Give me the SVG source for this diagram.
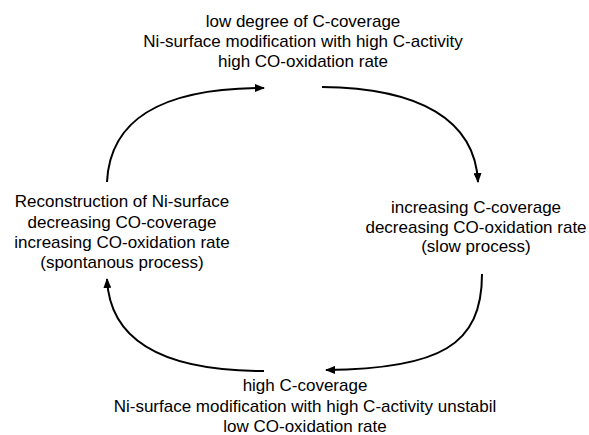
<svg xmlns="http://www.w3.org/2000/svg" width="589" height="435" viewBox="0 0 589 435">
<style>
text{font-family:"Liberation Sans",Arial,sans-serif;font-size:17px;fill:#000;text-anchor:middle}
.c{fill:none;stroke:#000;stroke-width:2}
</style>
<defs>
<marker id="ah" markerWidth="10" markerHeight="8" refX="9" refY="4" orient="auto" markerUnits="userSpaceOnUse">
<path d="M0,0 L10,4 L0,8 Z" fill="#000"/>
</marker>
</defs>
<rect width="589" height="435" fill="#fff"/>
<g id="n-top">
<text x="303" y="27">low degree of C-coverage</text>
<text x="303" y="47">Ni-surface modification with high C-activity</text>
<text x="303" y="67">high CO-oxidation rate</text>
</g>
<g id="n-right">
<text x="476" y="213">increasing C-coverage</text>
<text x="476" y="233">decreasing CO-oxidation rate</text>
<text x="476" y="252">(slow process)</text>
</g>
<g id="n-bottom">
<text x="305" y="391">high C-coverage</text>
<text x="305" y="412">Ni-surface modification with high C-activity unstabil</text>
<text x="305" y="432">low CO-oxidation rate</text>
</g>
<g id="n-left">
<text x="122" y="207">Reconstruction of Ni-surface</text>
<text x="122" y="228">decreasing CO-coverage</text>
<text x="122" y="248">increasing CO-oxidation rate</text>
<text x="122" y="268">(spontanous process)</text>
</g>
<g id="connectors">
<path class="c" d="M107,182 C110,120 160,88 264,88" marker-end="url(#ah)"/>
<path class="c" d="M322,87 C420,88 475,120 478,182" marker-end="url(#ah)"/>
<path class="c" d="M482,274 C482,345 440,369 326,370" marker-end="url(#ah)"/>
<path class="c" d="M264,371 C170,371 110,345 107,279" marker-end="url(#ah)"/>
</g>
</svg>
